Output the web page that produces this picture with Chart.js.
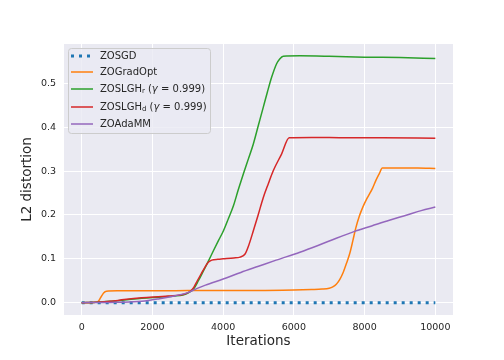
<!DOCTYPE html>
<html>
<head>
<meta charset="utf-8">
<script src="https://cdn.jsdelivr.net/npm/chart.js@4.4.0/dist/chart.umd.min.js"></script>
<style>
  html, body { margin: 0; padding: 0; background: #fff; }
</style>
</head>
<body>
<canvas id="chart" width="504" height="360"></canvas>
<script>
// Data
const sgdIter = [0, 10000];
const sgdL2 = [0, 0];

const gradOptIter = [0, 200, 400, 470, 540, 620, 700, 1000, 2000, 3000, 4000, 5000, 6000, 6500, 6800, 7000, 7100, 7200, 7300, 7400, 7480, 7580, 7670, 7750, 7850, 7950, 8050, 8140, 8230, 8320, 8420, 8500, 9000, 9500, 10000];
const gradOptL2 = [0, 0, 0.001, 0.003, 0.012, 0.022, 0.026, 0.027, 0.027, 0.0275, 0.028, 0.028, 0.029, 0.03, 0.031, 0.033, 0.036, 0.042, 0.053, 0.07, 0.088, 0.112, 0.142, 0.17, 0.197, 0.218, 0.235, 0.248, 0.262, 0.279, 0.295, 0.307, 0.307, 0.307, 0.306];

const lghRIter = [0, 400, 800, 1200, 1700, 2450, 2930, 3070, 3164, 3300, 3446, 3590, 3728, 3870, 4009, 4150, 4291, 4430, 4573, 4714, 4854, 4995, 5136, 5250, 5371, 5512, 5600, 5700, 6169, 7000, 8000, 9000, 10000];
const lghRL2 = [0, 0.001, 0.003, 0.006, 0.01, 0.014, 0.019, 0.025, 0.031, 0.05, 0.073, 0.096, 0.119, 0.142, 0.164, 0.192, 0.221, 0.258, 0.294, 0.328, 0.362, 0.404, 0.446, 0.48, 0.514, 0.545, 0.556, 0.562, 0.563, 0.562, 0.56, 0.559, 0.557];

const lghDIter = [0, 400, 800, 1200, 1700, 2450, 2930, 3070, 3170, 3270, 3380, 3480, 3580, 3680, 3850, 4000, 4300, 4480, 4620, 4720, 4854, 4990, 5136, 5280, 5417, 5652, 5869, 6500, 7500, 8500, 10000];
const lghDL2 = [0, 0.001, 0.003, 0.007, 0.011, 0.015, 0.02, 0.026, 0.035, 0.05, 0.066, 0.08, 0.092, 0.097, 0.099, 0.1, 0.102, 0.104, 0.111, 0.13, 0.164, 0.2, 0.24, 0.272, 0.301, 0.339, 0.376, 0.377, 0.376, 0.376, 0.375];

const adaIter = [0, 500, 1000, 1700, 2200, 2650, 3000, 3250, 3500, 4000, 4500, 5000, 5500, 6170, 6700, 7200, 7700, 8200, 8700, 9200, 9600, 10000];
const adaL2 = [0, 0.0005, 0.001, 0.003, 0.009, 0.016, 0.023, 0.032, 0.04, 0.054, 0.069, 0.083, 0.097, 0.115, 0.131, 0.147, 0.162, 0.175, 0.188, 0.2, 0.21, 0.218];

const xTickValues = [0, 2000, 4000, 6000, 8000, 10000];
const yTickValues = [0, 0.1, 0.2, 0.3, 0.4, 0.5];

const C_BLUE = '#1f77b4', C_ORANGE = '#ff7f0e', C_GREEN = '#2ca02c', C_RED = '#d62728', C_PURPLE = '#9467bd';
const TEXT = '#262626';
const FONT = '"DejaVu Sans", sans-serif';

function pts(xs, ys) {
    return xs.map((x, i) => ({ x: x, y: ys[i] }));
}

function line(label, xs, ys, color, order, extra) {
    return Object.assign({
        label: label,
        data: pts(xs, ys),
        borderColor: color,
        backgroundColor: color,
        borderWidth: 1.5,
        pointRadius: 0,
        cubicInterpolationMode: 'monotone',
        fill: false,
        order: order
    }, extra || {});
}

// plot background (seaborn darkgrid)
const bgPlugin = {
    id: 'bg',
    beforeDraw(chart) {
        const { ctx, chartArea: a } = chart;
        ctx.save();
        ctx.fillStyle = '#eaeaf2';
        ctx.fillRect(a.left, a.top, a.right - a.left, a.bottom - a.top);
        ctx.restore();
    }
};

// matplotlib-like legend box, with subscripts
const legendItems = [
    { parts: [['ZOSGD']], color: C_BLUE, dash: [3, 5], width: 3, y: 56 },
    { parts: [['ZOGradOpt']], color: C_ORANGE, width: 1.5, y: 72 },
    { parts: [['ZOSLGH'], ['r', 'sub'], [' ('], ['γ', 'it'], [' = 0.999)']], color: C_GREEN, width: 1.5, y: 89 },
    { parts: [['ZOSLGH'], ['d', 'sub'], [' ('], ['γ', 'it'], [' = 0.999)']], color: C_RED, width: 1.5, y: 107 },
    { parts: [['ZOAdaMM']], color: C_PURPLE, width: 1.5, y: 124 }
];

function roundRect(ctx, x, y, w, h, r) {
    ctx.beginPath();
    ctx.moveTo(x + r, y);
    ctx.lineTo(x + w - r, y);
    ctx.arcTo(x + w, y, x + w, y + r, r);
    ctx.lineTo(x + w, y + h - r);
    ctx.arcTo(x + w, y + h, x + w - r, y + h, r);
    ctx.lineTo(x + r, y + h);
    ctx.arcTo(x, y + h, x, y + h - r, r);
    ctx.lineTo(x, y + r);
    ctx.arcTo(x, y, x + r, y, r);
    ctx.closePath();
}

const legendPlugin = {
    id: 'mplLegend',
    afterDraw(chart) {
        const ctx = chart.ctx;
        ctx.save();
        roundRect(ctx, 68.5, 48.5, 142, 85, 3);
        ctx.fillStyle = 'rgba(234,234,242,0.8)';
        ctx.fill();
        ctx.strokeStyle = '#cccccc';
        ctx.lineWidth = 1;
        ctx.stroke();

        for (const it of legendItems) {
            ctx.beginPath();
            ctx.setLineDash(it.dash || []);
            ctx.lineCap = 'butt';
            ctx.strokeStyle = it.color;
            ctx.lineWidth = it.width;
            ctx.moveTo(71, it.y);
            ctx.lineTo(93, it.y);
            ctx.stroke();
            ctx.setLineDash([]);

            let x = 100;
            ctx.fillStyle = TEXT;
            ctx.textBaseline = 'middle';
            ctx.textAlign = 'left';
            for (const [txt, kind] of it.parts) {
                let dy = 0;
                if (kind === 'sub') {
                    ctx.font = '7px ' + FONT;
                    dy = 2.5;
                } else if (kind === 'it') {
                    ctx.font = 'italic 10px ' + FONT;
                } else {
                    ctx.font = '10px ' + FONT;
                }
                ctx.fillText(txt, x, it.y + dy);
                x += ctx.measureText(txt).width;
            }
        }
        ctx.restore();
    }
};

const chart = new Chart(document.getElementById('chart').getContext('2d'), {
    type: 'line',
    data: {
        datasets: [
            line('ZOSGD', sgdIter, sgdL2, C_BLUE, 5, { borderWidth: 3, borderDash: [3, 5], borderCapStyle: 'butt', cubicInterpolationMode: 'default', tension: 0 }),
            line('ZOGradOpt', gradOptIter, gradOptL2, C_ORANGE, 4),
            line('ZOSLGHr', lghRIter, lghRL2, C_GREEN, 3),
            line('ZOSLGHd', lghDIter, lghDL2, C_RED, 2),
            line('ZOAdaMM', adaIter, adaL2, C_PURPLE, 1)
        ]
    },
    options: {
        responsive: false,
        animation: false,
        layout: { padding: { top: 44, right: 51, left: 0, bottom: 0 } },
        plugins: {
            legend: { display: false },
            tooltip: { enabled: false }
        },
        scales: {
            x: {
                type: 'linear',
                min: -500,
                max: 10500,
                afterFit(s) { s.height = 45; },
                afterBuildTicks(s) { s.ticks = xTickValues.map(v => ({ value: v })); },
                grid: { color: '#ffffff', lineWidth: 1, drawTicks: false },
                border: { display: false },
                ticks: {
                    padding: 7,
                    color: TEXT,
                    font: { family: FONT, size: 9.5 },
                    maxRotation: 0,
                    callback: v => String(v)
                },
                title: {
                    display: true,
                    text: 'Iterations',
                    color: TEXT,
                    font: { family: FONT, size: 13.5 },
                    padding: { top: 0, bottom: 10.4 }
                }
            },
            y: {
                type: 'linear',
                min: -0.0281,
                max: 0.59,
                afterFit(s) { s.width = 64; },
                afterBuildTicks(s) { s.ticks = yTickValues.map(v => ({ value: v })); },
                grid: { color: '#ffffff', lineWidth: 1, drawTicks: false },
                border: { display: false },
                ticks: {
                    padding: 8,
                    color: TEXT,
                    font: { family: FONT, size: 9.5 },
                    callback: v => v.toFixed(1)
                },
                title: {
                    display: true,
                    text: 'L2 distortion',
                    color: TEXT,
                    font: { family: FONT, size: 13.5 },
                    padding: { top: 19.5, bottom: 0 }
                }
            }
        }
    },
    plugins: [bgPlugin, legendPlugin]
});
</script>
</body>
</html>
